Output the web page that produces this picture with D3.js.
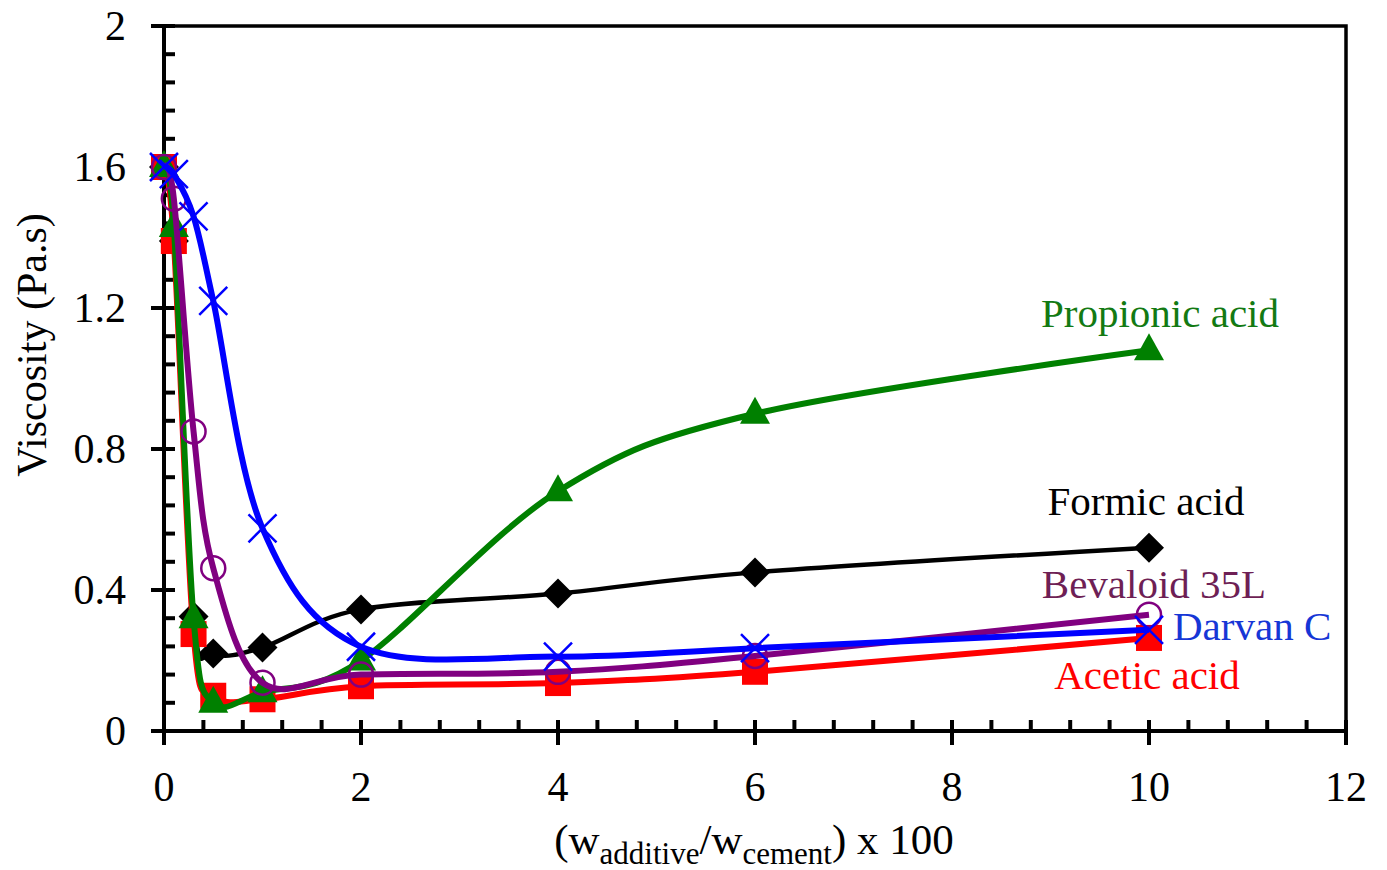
<!DOCTYPE html>
<html>
<head>
<meta charset="utf-8">
<script src="https://cdn.jsdelivr.net/npm/d3@7/dist/d3.min.js"></script>
<style>
  html, body { margin: 0; padding: 0; background: #fff; }
  svg { display: block; font-family: "Liberation Serif", "Times New Roman", serif; }
</style>
</head>
<body>
<svg id="chart" width="1387" height="870"></svg>
<script>
// ---- data ----
const xValues   = [0, 0.1, 0.3, 0.5, 1, 2, 4, 6, 10];
const formic    = [1.6, 1.39, 0.325, 0.22, 0.237, 0.345, 0.39, 0.45, 0.52];
const acetic    = [1.6, 1.39, 0.275, 0.1, 0.09, 0.127, 0.136, 0.168, 0.264];
const propionic = [1.6, 1.43, 0.32, 0.08, 0.11, 0.2, 0.68, 0.9, 1.08];
const bevaloid  = [1.6, 1.51, 0.85, 0.462, 0.137, 0.16, 0.168, 0.213, 0.33];
const darvan    = [1.6, 1.58, 1.46, 1.22, 0.575, 0.239, 0.211, 0.235, 0.287];
const seriesNames = ["Formic acid", "Acetic acid", "Propionic acid", "Bevaloid 35L", "Darvan C"];
const xTicks = [0, 2, 4, 6, 8, 10, 12];
const yTicks = [0, 0.4, 0.8, 1.2, 1.6, 2];
const yTickLabels = ["0", "0.4", "0.8", "1.2", "1.6", "2"];

// ---- layout ----
const svg = d3.select("#chart");
const L = 164, R = 1346, T = 26, B = 731;
const x = d3.scaleLinear().domain([0, 12]).range([L, R]);
const y = d3.scaleLinear().domain([0, 2]).range([B, T]);

const series = [
  {name: seriesNames[0], values: formic,    color: "#000000", lw: 4.5, marker: "diamond", label: {color: "#000000", x: 1146, y: 515}},
  {name: seriesNames[1], values: acetic,    color: "#ff0000", lw: 6, marker: "square",  label: {color: "#ff0000", x: 1147, y: 689}},
  {name: seriesNames[2], values: propionic, color: "#008000", lw: 6, marker: "triangle",label: {color: "#137a13", x: 1160, y: 327}},
  {name: seriesNames[3], values: bevaloid,  color: "#800080", lw: 6, marker: "circle",  label: {color: "#6e1f55", x: 1154, y: 598}},
  {name: seriesNames[4], values: darvan,    color: "#0000ff", lw: 6, marker: "cross",   label: {color: "#1636d6", x: 1173, y: 640, anchor: "start"}}
];

// ---- frame ----
svg.append("rect").attr("x", L).attr("y", T).attr("width", R - L).attr("height", B - T)
  .attr("fill", "none").attr("stroke", "#000").attr("stroke-width", 3.5);

// minor ticks (inside)
const minorX = d3.range(0, 12.001, 0.4).filter(v => Math.abs(v / 2 - Math.round(v / 2)) > 1e-6);
const minorY = d3.range(0, 2.001, 0.08).filter(v => Math.abs(v / 0.4 - Math.round(v / 0.4)) > 1e-6);
svg.append("g").selectAll("line").data(minorX).join("line")
  .attr("x1", d => x(d)).attr("x2", d => x(d)).attr("y1", B).attr("y2", B - 11)
  .attr("stroke", "#000").attr("stroke-width", 4);
svg.append("g").selectAll("line").data(minorY).join("line")
  .attr("y1", d => y(d)).attr("y2", d => y(d)).attr("x1", L).attr("x2", L + 11)
  .attr("stroke", "#000").attr("stroke-width", 4);

// major ticks (cross)
svg.append("g").selectAll("line").data(xTicks).join("line")
  .attr("x1", d => x(d)).attr("x2", d => x(d)).attr("y1", B - 11).attr("y2", B + 14)
  .attr("stroke", "#000").attr("stroke-width", 4);
svg.append("g").selectAll("line").data(yTicks).join("line")
  .attr("y1", d => y(d)).attr("y2", d => y(d)).attr("x1", L - 13).attr("x2", L + 11)
  .attr("stroke", "#000").attr("stroke-width", 4);

// axes lines
svg.append("line").attr("x1", L).attr("x2", L).attr("y1", T).attr("y2", B + 2).attr("stroke", "#000").attr("stroke-width", 4);
svg.append("line").attr("x1", L - 2).attr("x2", R).attr("y1", B).attr("y2", B).attr("stroke", "#000").attr("stroke-width", 4);

// tick labels
svg.append("g").selectAll("text").data(xTicks).join("text")
  .attr("x", d => x(d)).attr("y", 801).attr("text-anchor", "middle")
  .attr("font-size", 42).attr("fill", "#000").text(d => d);
svg.append("g").selectAll("text").data(yTicks).join("text")
  .attr("x", 126).attr("y", d => y(d) + 14).attr("text-anchor", "end")
  .attr("font-size", 42).attr("fill", "#000").text((d, i) => yTickLabels[i]);

// axis titles
svg.append("text").attr("transform", "translate(46,345) rotate(-90)")
  .attr("text-anchor", "middle").attr("font-size", 42).attr("fill", "#000")
  .text("Viscosity (Pa.s)");

const xt = svg.append("text").attr("x", 754).attr("y", 854).attr("text-anchor", "middle")
  .attr("font-size", 43).attr("fill", "#000");
xt.append("tspan").text("(w");
xt.append("tspan").attr("font-size", 31).attr("dy", 10).text("additive");
xt.append("tspan").attr("dy", -10).text("/w");
xt.append("tspan").attr("font-size", 31).attr("dy", 10).text("cement");
xt.append("tspan").attr("dy", -10).text(") x 100");

// ---- series ----
const line = d3.line().x(d => x(d[0])).y(d => y(d[1])).curve(d3.curveCardinal.tension(0));

function drawMarker(g, m, color) {
  if (m === "diamond") {
    g.append("path").attr("d", "M0,-15L15,0L0,15L-15,0Z").attr("fill", color);
  } else if (m === "square") {
    g.append("rect").attr("x", -13).attr("y", -13).attr("width", 26).attr("height", 26).attr("fill", color);
  } else if (m === "triangle") {
    g.append("path").attr("d", "M0,-17L15,10L-15,10Z").attr("fill", color);
  } else if (m === "circle") {
    g.append("circle").attr("r", 12).attr("fill", "none").attr("stroke", color).attr("stroke-width", 2.5);
  } else if (m === "cross") {
    g.append("path").attr("d", "M-14,-14L14,14M-14,14L14,-14").attr("stroke", color).attr("stroke-width", 2.5).attr("fill", "none");
  }
}

series.forEach(s => {
  const pts = xValues.map((xv, i) => [xv, s.values[i]]);
  const g = svg.append("g");
  g.append("path").datum(pts).attr("d", line).attr("fill", "none")
    .attr("stroke", s.color).attr("stroke-width", s.lw).attr("stroke-linejoin", "round");
  pts.forEach(p => {
    const mg = g.append("g").attr("transform", `translate(${x(p[0])},${y(p[1])})`);
    drawMarker(mg, s.marker, s.color);
  });
});

// labels
series.forEach(s => {
  svg.append("text").attr("x", s.label.x).attr("y", s.label.y)
    .attr("text-anchor", s.label.anchor || "middle").attr("font-size", 41)
    .attr("fill", s.label.color).text(s.name);
});
</script>
</body>
</html>
